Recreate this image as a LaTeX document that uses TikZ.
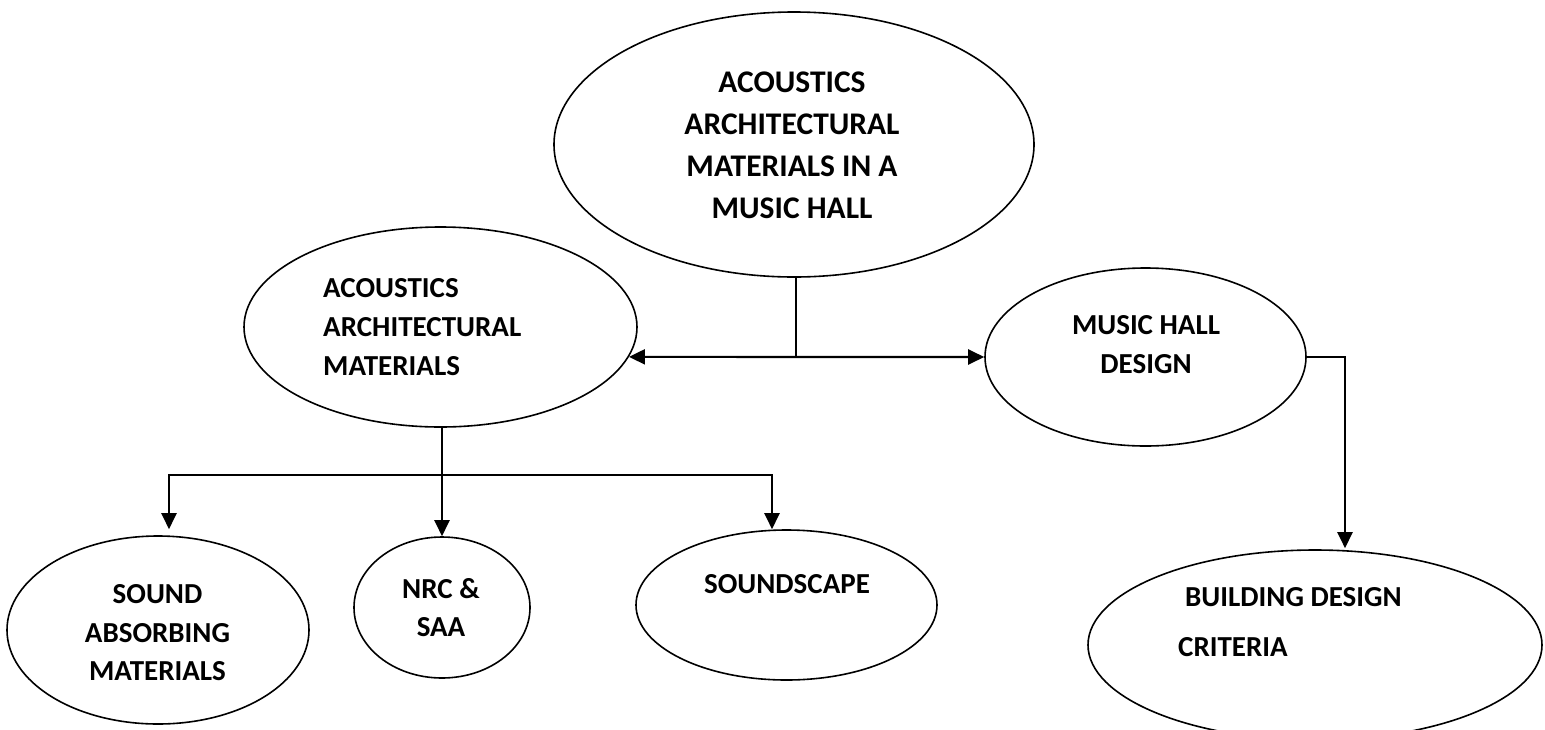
\documentclass[tikz,border=0pt]{standalone}
\usepackage{fontspec}
\setmainfont{Carlito}
\usetikzlibrary{shapes.geometric,arrows.meta}
\begin{document}
\begin{tikzpicture}[x=1pt,y=-1pt,
  oval/.style={draw,ellipse,line width=1.6pt,inner sep=0pt},
  conn/.style={line width=2.2pt},
  arr/.style={conn,-{Triangle[length=16pt,width=15pt]}},
  darr/.style={conn,{Triangle[length=16pt,width=15pt]}-{Triangle[length=16pt,width=15pt]}},
  lbl/.style={font=\fontsize{29}{39}\selectfont\bfseries,inner sep=0pt},
  toplbl/.style={font=\fontsize{31.5}{42}\selectfont\bfseries,inner sep=0pt,align=center}]
\useasboundingbox (0,0) rectangle (1545,729);
% ellipses
\node[oval,minimum width=480pt,minimum height=265pt] (top) at (794,144.5) {};
\node[oval,minimum width=393pt,minimum height=200pt] (lm) at (440.5,327) {};
\node[oval,minimum width=321pt,minimum height=178pt] (rm) at (1145.5,357) {};
\node[oval,minimum width=302pt,minimum height=188pt] (sa) at (158,630) {};
\node[oval,minimum width=176pt,minimum height=141pt] (nrc) at (442,607.5) {};
\node[oval,minimum width=301pt,minimum height=150pt] (ss) at (786.5,605) {};
\node[oval,minimum width=454pt,minimum height=190pt] (bd) at (1315,645) {};
% texts
\node[toplbl] (ttop) at (792,145) {ACOUSTICS\\ARCHITECTURAL\\MATERIALS IN A\\MUSIC HALL};
\node[lbl,align=left,anchor=west] (tlm) at (323,327.4) {ACOUSTICS\\ARCHITECTURAL\\MATERIALS};
\node[lbl,align=center] (trm) at (1146,344.8) {MUSIC HALL\\DESIGN};
\node[lbl,align=center,font=\fontsize{29}{38.5}\selectfont\bfseries] (tsa) at (157.5,632.9) {SOUND\\ABSORBING\\MATERIALS};
\node[lbl,align=center,font=\fontsize{29}{38}\selectfont\bfseries] (tnrc) at (441,607.3) {NRC \&\\SAA};
\node[lbl] (tss) at (787,584.4) {SOUNDSCAPE};
\node[lbl,align=left,anchor=west,font=\fontsize{29}{50}\selectfont\bfseries] (tbd) at (1178,622) {\hspace*{7pt}BUILDING DESIGN\\CRITERIA};
% connectors
\coordinate (j1) at (796,357);
\coordinate (j2) at (442,475);
\draw[conn] (top.south -| j1) -- (j1);
\draw[darr] (lm.-9.1) -- (rm.west);
\draw[arr] (lm.south -| j2) -- (nrc.north);
\draw[arr] (j2) -| ([xshift=11pt,yshift=6pt]sa.north);
\draw[arr] (j2) -| ([xshift=-14.5pt]ss.north);
\draw[arr] (rm.east) -| ([xshift=30pt,yshift=1pt]bd.north);
\end{tikzpicture}
\end{document}
